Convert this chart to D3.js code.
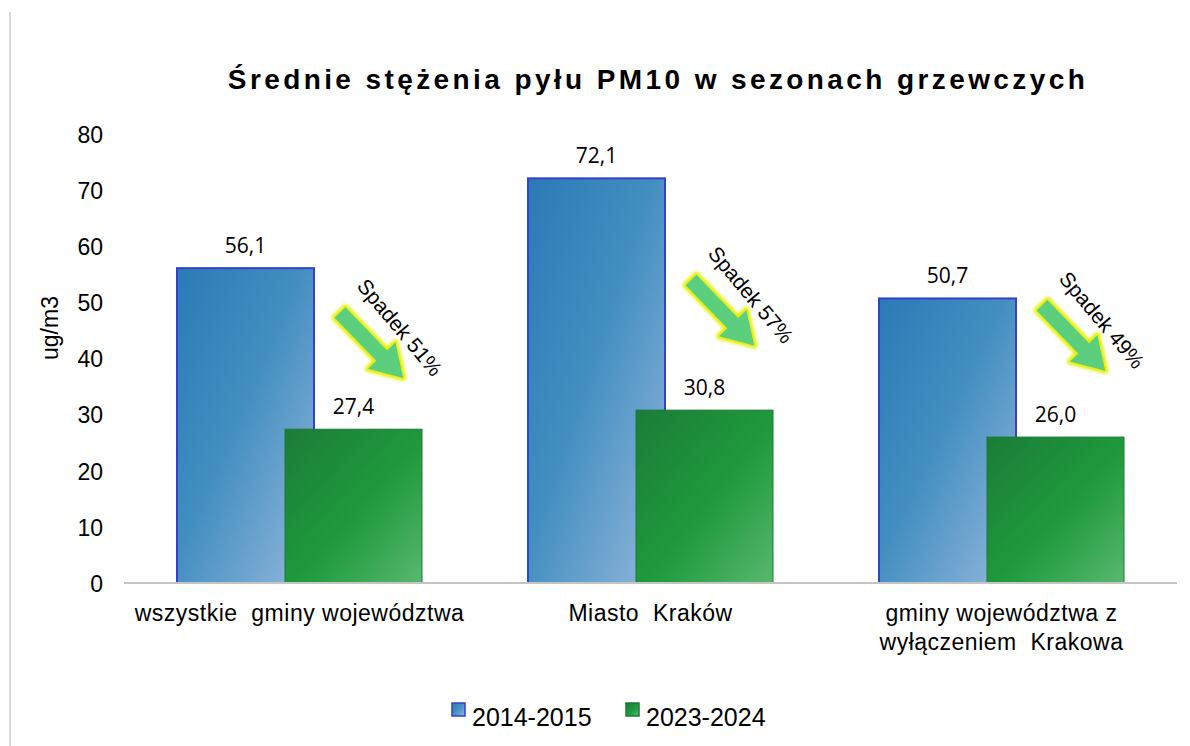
<!DOCTYPE html>
<html>
<head>
<meta charset="utf-8">
<title>PM10</title>
<script src="https://d3js.org/d3.v7.min.js"></script>
<style>
body { margin: 0; background: #fff; }
text { font-family: "Liberation Sans", Arial, sans-serif; fill: #000; }
</style>
</head>
<body>
<div id="chart"></div>
<script>
// dane
var categories = [["wszystkie  gminy województwa"], ["Miasto  Kraków"], ["gminy województwa z", "wyłączeniem  Krakowa"]];
var series = ["2014-2015", "2023-2024"];
var values2014 = [56.1, 72.1, 50.7];
var values2023 = [27.4, 30.8, 26.0];
var yTicks = [0, 10, 20, 30, 40, 50, 60, 70, 80];
// where the "Spadek" arrows sit (data units on the y axis)
var arrowLevel = [48.2, 54.0, 49.5];

var w = 1190, h = 746;

var svg = d3.select("#chart").append("svg")
    .attr("width", w)
    .attr("height", h);

var defs = svg.append("defs");

var gBlue = defs.append("linearGradient").attr("id", "gBlue")
    .attr("x1", "0").attr("y1", "0").attr("x2", "1").attr("y2", "1");
gBlue.append("stop").attr("offset", "0%").attr("stop-color", "#2b7ab6");
gBlue.append("stop").attr("offset", "45%").attr("stop-color", "#418ec0");
gBlue.append("stop").attr("offset", "100%").attr("stop-color", "#95b8dc");

var gGreen = defs.append("linearGradient").attr("id", "gGreen")
    .attr("x1", "0").attr("y1", "0").attr("x2", "1").attr("y2", "1");
gGreen.append("stop").attr("offset", "0%").attr("stop-color", "#1b7c38");
gGreen.append("stop").attr("offset", "55%").attr("stop-color", "#1f9a3c");
gGreen.append("stop").attr("offset", "100%").attr("stop-color", "#58b870");

var blur = defs.append("filter").attr("id", "glow")
    .attr("x", "-30%").attr("y", "-30%").attr("width", "160%").attr("height", "160%");
blur.append("feGaussianBlur").attr("stdDeviation", 1.4);

// ramka
svg.append("line")
    .attr("x1", 10).attr("x2", 10).attr("y1", 12).attr("y2", h)
    .attr("stroke", "#d9d9d9").attr("stroke-width", 2);

var x = d3.scaleBand()
    .domain(d3.range(categories.length))
    .range([124, 1177])
    .paddingInner(0).paddingOuter(0);

var y = d3.scaleLinear().domain([0, 80]).range([583, 134]);

var barW = 137, shift = 108;
var groupW = barW + shift;

// tytul
svg.append("text")
    .attr("x", 658).attr("y", 89)
    .attr("text-anchor", "middle")
    .style("font-size", "28px")
    .style("font-weight", "bold")
    .style("letter-spacing", "3.4px")
    .text("Średnie stężenia pyłu PM10 w sezonach grzewczych");

// os Y
var yAxis = svg.append("g")
    .attr("transform", "translate(103,0)")
    .call(d3.axisLeft(y).tickValues(yTicks).tickSize(0).tickPadding(0));
yAxis.select(".domain").remove();
yAxis.selectAll("text")
    .style("font-family", "'Liberation Sans', Arial, sans-serif")
    .style("font-size", "23px")
    .attr("dy", "0.36em")
    .attr("fill", "#000");

svg.append("text")
    .attr("transform", "translate(58,328) rotate(-90)")
    .attr("text-anchor", "middle")
    .style("font-size", "23px")
    .text("ug/m3");

// slupki
function barX(i) { return x(i) + (x.bandwidth() - groupW) / 2; }

svg.selectAll("rect.b1").data(values2014).enter().append("rect")
    .attr("class", "b1")
    .attr("x", function(d, i) { return barX(i); })
    .attr("y", function(d) { return y(d); })
    .attr("width", barW)
    .attr("height", function(d) { return y(0) - y(d); })
    .attr("fill", "url(#gBlue)")
    .attr("stroke", "#3442c8").attr("stroke-width", 2);

svg.selectAll("rect.b2").data(values2023).enter().append("rect")
    .attr("class", "b2")
    .attr("x", function(d, i) { return barX(i) + shift; })
    .attr("y", function(d) { return y(d); })
    .attr("width", barW)
    .attr("height", function(d) { return y(0) - y(d); })
    .attr("fill", "url(#gGreen)")
    .attr("stroke", "#1d7a36").attr("stroke-width", 1);

var fmt = function(v) { return d3.format(".1f")(v).replace(".", ","); };

svg.selectAll("text.v1").data(values2014).enter().append("text")
    .attr("x", function(d, i) { return barX(i) + barW / 2; })
    .attr("y", function(d) { return y(d) - 15; })
    .attr("text-anchor", "middle")
    .style("font-family", "'Open Sans', sans-serif")
    .style("font-size", "21px")
    .text(fmt);

svg.selectAll("text.v2").data(values2023).enter().append("text")
    .attr("x", function(d, i) { return barX(i) + shift + barW / 2; })
    .attr("y", function(d) { return y(d) - 15; })
    .attr("text-anchor", "middle")
    .style("font-family", "'Open Sans', sans-serif")
    .style("font-size", "21px")
    .text(fmt);

// os X
svg.append("line")
    .attr("x1", x.range()[0]).attr("x2", x.range()[1])
    .attr("y1", y(0)).attr("y2", y(0))
    .attr("stroke", "#c4c4c4").attr("stroke-width", 2);

categories.forEach(function(lines, i) {
    var t = svg.append("text")
        .attr("x", x(i) + x.bandwidth() / 2)
        .attr("y", 621)
        .attr("text-anchor", "middle")
        .style("font-size", "23px")
        .style("letter-spacing", "0.5px")
        .style("white-space", "pre");
    lines.forEach(function(l, k) {
        t.append("tspan")
            .attr("x", x(i) + x.bandwidth() / 2)
            .attr("dy", k === 0 ? 0 : 29)
            .text(l);
    });
});

// strzalki "Spadek"
var arrowPath = "M0,-7.5 L60,-7.5 L60,-19 L91,0 L60,19 L60,7.5 L0,7.5 Z";
values2014.forEach(function(v, i) {
    var pct = Math.round((v - values2023[i]) / v * 100);
    var tx = barX(i) + 163, ty = y(arrowLevel[i]);
    var g = svg.append("g").attr("transform", "translate(" + tx + "," + ty + ") rotate(46)");
    g.append("path").attr("d", arrowPath)
        .attr("fill", "none").attr("stroke", "#e6ee00").attr("stroke-width", 6)
        .attr("stroke-linejoin", "round")
        .attr("filter", "url(#glow)");
    g.append("path").attr("d", arrowPath)
        .attr("fill", "#5ccf7e");
    svg.append("text")
        .attr("transform", "translate(" + (tx + 16) + "," + (ty - 26) + ") rotate(50)")
        .style("font-size", "21px")
        .text("Spadek " + pct + "%");
});

// legenda
var legend = [
    { name: series[0], fill: "url(#gBlue)", stroke: "#3442c8", x: 452 },
    { name: series[1], fill: "url(#gGreen)", stroke: "#1d7a36", x: 626 }
];
legend.forEach(function(l) {
    svg.append("rect")
        .attr("x", l.x).attr("y", 703).attr("width", 13).attr("height", 13)
        .attr("fill", l.fill).attr("stroke", l.stroke).attr("stroke-width", 1.5);
    svg.append("text")
        .attr("x", l.x + 20).attr("y", 726)
        .style("font-size", "25px")
        .text(l.name);
});
</script>
</body>
</html>
